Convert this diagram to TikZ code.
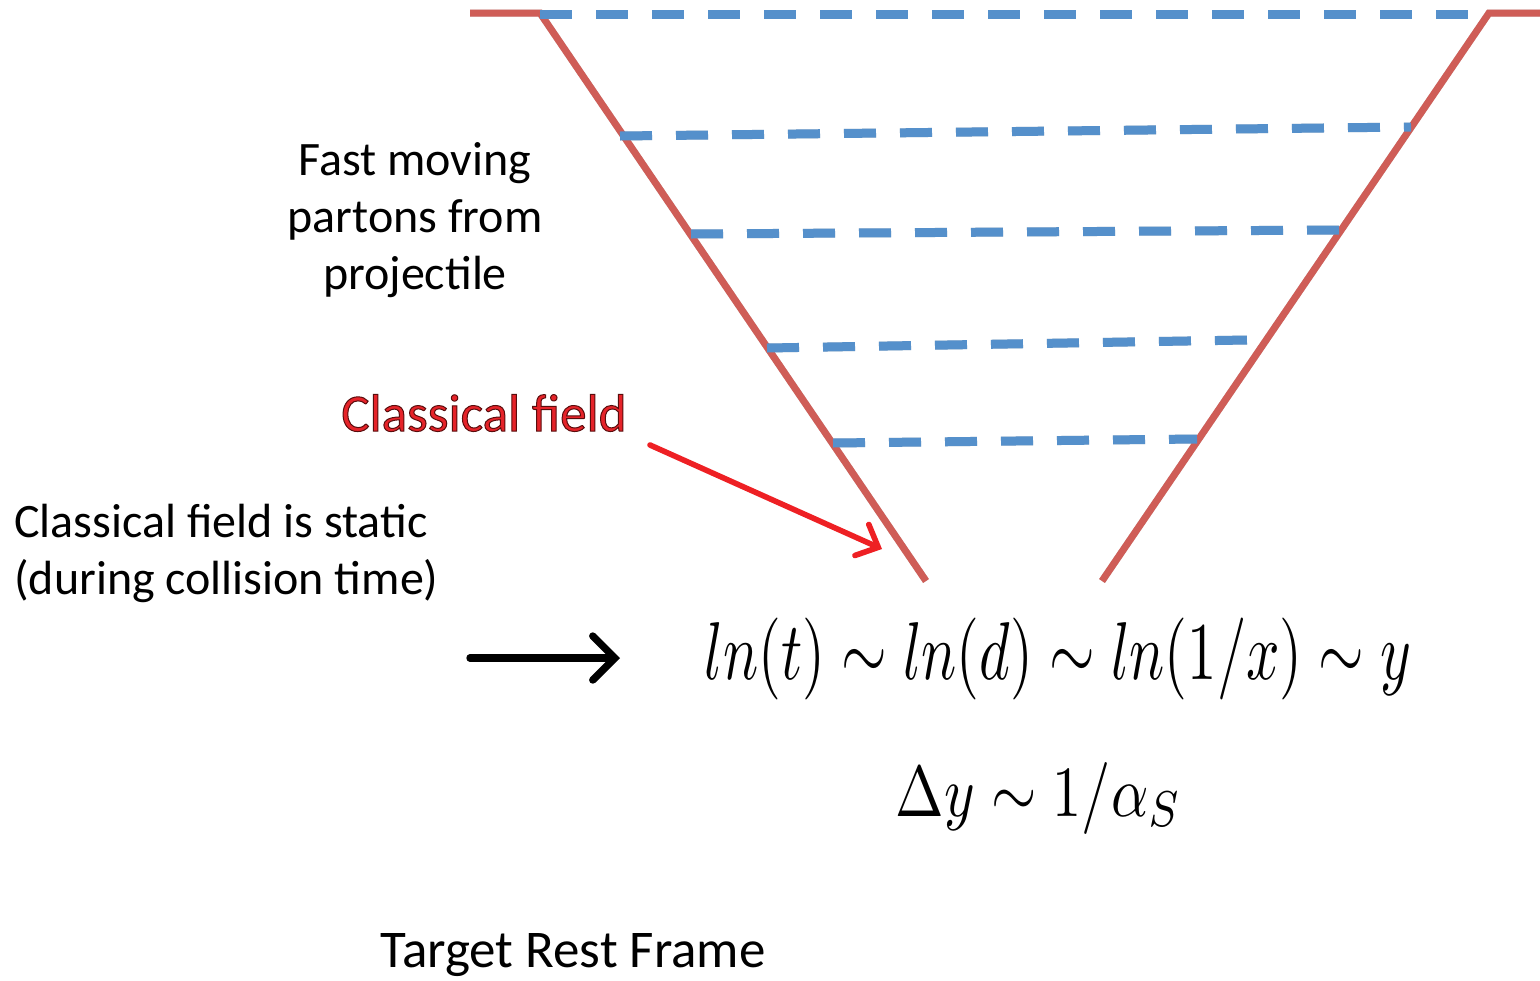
\documentclass[tikz,border=0pt]{standalone}
\usepackage[no-math]{fontspec}
\setmainfont{Carlito}
\usepackage{graphicx}
\usetikzlibrary{arrows.meta}
\definecolor{funnelred}{HTML}{CF5D57}
\definecolor{partonblue}{HTML}{5590CB}
\definecolor{fieldred}{HTML}{E52329}
\definecolor{arrowred}{HTML}{EE2024}
\tikzset{
  funnel/.style={draw=funnelred, line width=3.5pt, line join=miter},
  parton/.style={draw=partonblue, line width=4.5pt, dash pattern=on 16pt off 12pt},
  shadowline/.style={draw=black, opacity=0.18, line width=4.5pt, dash pattern=on 16pt off 12pt},
  funnelshadow/.style={draw=black, opacity=0.18, line width=3.5pt},
  label/.style={font=\fontsize{24}{28.5}\selectfont, inner sep=0pt, align=center},
}
\begin{document}
\begin{tikzpicture}[x=0.5pt, y=-0.5pt]
\useasboundingbox (0,0) rectangle (1540,980);
% funnel corners
\coordinate (L0) at (470,13);
\coordinate (L1) at (540,13);
\coordinate (L2) at (926,581);
\coordinate (R2) at (1102,581);
\coordinate (R1) at (1489,13);
\coordinate (R0) at (1540,13);
% parton line ends
\coordinate (a1) at (540,14);  \coordinate (b1) at (1470,14);
\coordinate (a2) at (620,136); \coordinate (b2) at (1411,127);
\coordinate (a3) at (691,234); \coordinate (b3) at (1339,230);
\coordinate (a4) at (767,348); \coordinate (b4) at (1247,340);
\coordinate (a5) at (833,443); \coordinate (b5) at (1197,439);
% shadows
\begin{scope}[shift={(2,3)}]
\draw[funnelshadow] (L0) -- (L1) -- (L2);
\draw[funnelshadow] (R2) -- (R1) -- (R0);
\foreach \i in {1,...,5} \draw[shadowline] (a\i) -- (b\i);
\end{scope}
% funnel
\draw[funnel] (L0) -- (L1) -- (L2);
\draw[funnel] (R2) -- (R1) -- (R0);
% partons
\foreach \i in {1,...,5} \draw[parton] (a\i) -- (b\i);
% texts
\node[label] (fast) at (415,220) {Fast moving\\partons from\\projectile};
\node[label, anchor=west, align=left] (static) at (14,553) {Classical field is static\\(during collision time)};
\node[font=\fontsize{26.5}{30}\selectfont, text=fieldred, inner sep=0pt] (cf) at (484,413)
  {\special{pdf:literal direct 0.35 0.05 0.05 RG 0.5 w 2 Tr}Classical field\special{pdf:literal direct 0 Tr}};
\node[font=\fontsize{26.5}{30}\selectfont, inner sep=0pt] (trf) at (573,955) {Target Rest Frame};
% formulas
\node[inner sep=0pt] (f1) at (1058,659) {\resizebox*{353.5pt}{41pt}{$ln(t)\sim ln(d)\sim ln(1/x)\sim y$}};
\node[inner sep=0pt] (f2) at (1039,798) {\resizebox*{143pt}{36pt}{$\Delta y\sim 1/\alpha_S$}};
% arrows
\coordinate (redtail) at (650,445);
\coordinate (redtip) at (882,549);
\draw[arrowred, line width=2.8pt, line cap=round, -{Straight Barb[length=9pt, width=17pt, line cap=round]}] (redtail) -- (redtip);
\coordinate (blacktail) at (470,658);
\coordinate (blacktip) at (620,658);
\draw[black, line width=3.7pt, line cap=round, -{Straight Barb[length=11pt, width=22pt, line cap=round]}] (blacktail) -- (blacktip);
\end{tikzpicture}
\end{document}
